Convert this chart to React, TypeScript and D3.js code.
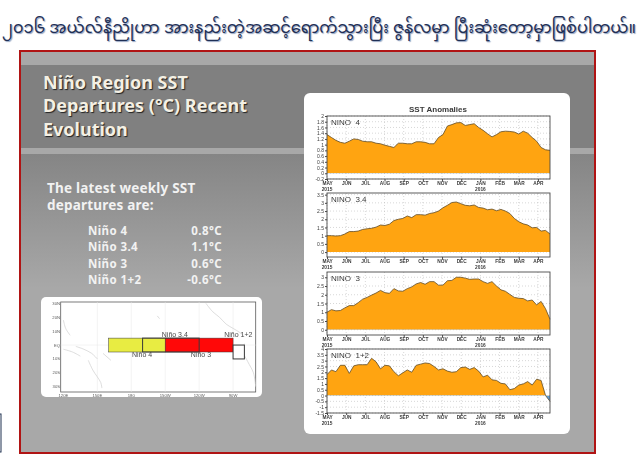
import * as d3 from "d3";
import React, { useEffect, useRef } from "react";

const headline = "၂၀၁၆ အယ်လ်နီညိုဟာ အားနည်းတဲ့အဆင့်ရောက်သွားပြီး ဇွန်လမှာ ပြီးဆုံးတော့မှာဖြစ်ပါတယ်။";
const titleLines = ["Niño Region SST", "Departures (°C) Recent", "Evolution"];
const introLines = ["The latest weekly SST", "departures are:"];
const regionNames = ["Niño 4", "Niño 3.4", "Niño 3", "Niño 1+2"];
const latestValues = ["0.8°C", "1.1°C", "0.6°C", "-0.6°C"];

const months = ["MAY", "JUN", "JUL", "AUG", "SEP", "OCT", "NOV", "DEC", "JAN", "FEB", "MAR", "APR"];

// weekly anomalies, May 2015 - Apr 2016
const nino4 = [
  1.35, 1.25, 1.15, 1.08, 1.05, 1.12, 1.2, 1.18, 1.12, 1.1, 1.1, 1.05, 1.03, 0.98, 0.94, 0.9, 1.05,
  1.05, 1.03, 1.03, 1.1, 1.1, 1.08, 1.03, 1.03, 1.25, 1.35, 1.65, 1.7, 1.76, 1.77, 1.67, 1.7, 1.73,
  1.6, 1.5, 1.38, 1.27, 1.35, 1.45, 1.47, 1.46, 1.44, 1.37, 1.47, 1.4, 1.25, 1.12, 0.9, 0.82, 0.8,
];
const nino34 = [
  1.0, 1.0, 0.98, 1.0, 1.1, 1.25, 1.25, 1.28, 1.38, 1.42, 1.45, 1.52, 1.65, 1.62, 1.7, 1.92, 2.0,
  2.05, 2.2, 2.1, 2.28, 2.28, 2.25, 2.35, 2.4, 2.5, 2.7, 2.85, 3.02, 3.05, 2.95, 2.85, 2.82, 2.87,
  2.72, 2.68, 2.58, 2.62, 2.52, 2.6, 2.5, 2.35, 2.05, 1.85, 1.72, 1.65, 1.48, 1.5, 1.28, 1.32, 1.1,
];
const nino3 = [
  1.0, 1.15, 1.08, 1.1, 1.25, 1.38, 1.38, 1.55, 1.75, 1.85, 1.98, 2.1, 2.25, 2.12, 2.08, 2.35, 2.22,
  2.2, 2.35, 2.45, 2.62, 2.7, 2.6, 2.75, 2.75, 2.55, 2.55, 2.8, 2.82, 3.0, 3.0, 2.95, 2.88, 2.9,
  2.9, 2.75, 2.65, 2.75, 2.5, 2.28, 2.2, 2.02, 1.85, 1.8, 1.78, 1.65, 1.7, 1.42, 1.62, 1.2, 0.6,
];
const nino12 = [
  1.8, 2.2, 2.05, 2.6, 2.6, 1.9, 2.55, 2.65, 2.65, 2.65, 3.2, 2.9, 2.3, 2.6, 2.55, 2.05, 1.7, 1.95,
  2.2, 2.0, 2.6, 2.7, 2.8, 2.75, 2.5, 2.2, 2.3, 2.1, 2.0, 2.05, 2.4, 2.45, 2.25, 2.4, 2.1, 1.6, 1.75,
  1.35, 1.3, 1.05, 1.0, 0.5, 0.6, 0.9, 1.0, 1.2, 0.9, 1.4, 1.3, 0.0, -0.5,
];

const ticks4 = [-0.2, 0, 0.2, 0.4, 0.6, 0.8, 1, 1.2, 1.4, 1.6, 1.8, 2];
const ticks34 = [0, 0.5, 1, 1.5, 2, 2.5, 3, 3.5];
const ticks3 = [0, 0.5, 1, 1.5, 2, 2.5, 3];
const ticks12 = [-1.5, -1, -0.5, 0, 0.5, 1, 1.5, 2, 2.5, 3, 3.5, 4];

const panels = [
  { label: "NINO  4", values: nino4, ticks: ticks4, domain: [-0.2, 2], top: 116, bottom: 179 },
  { label: "NINO  3.4", values: nino34, ticks: ticks34, domain: [-0.3, 3.6], top: 193, bottom: 257 },
  { label: "NINO  3", values: nino3, ticks: ticks3, domain: [-0.3, 3.3], top: 272, bottom: 335 },
  { label: "NINO  1+2", values: nino12, ticks: ticks12, domain: [-1.5, 4], top: 349, bottom: 413 },
];

// map inset
const mapLons = [120, 150, 180, 210, 240, 270];
const mapLonLabels = ["120E", "150E", "180", "150W", "120W", "90W"];
const mapLats = [30, 20, 10, 0, -10, -20, -30];
const mapLatLabels = ["30N", "20N", "10N", "EQ", "10S", "20S", "30S"];
const mapBoxes = [
  { name: "Niño 4", lon0: 160, lon1: 210, lat0: -5, lat1: 5, fill: "#e8ec3c" },
  { name: "Niño 3", lon0: 210, lon1: 270, lat0: -5, lat1: 5, fill: "#ff0000" },
  { name: "Niño 3.4", lon0: 190, lon1: 240, lat0: -5, lat1: 5, fill: "none" },
  { name: "Niño 1+2", lon0: 270, lon1: 280, lat0: -10, lat1: 0, fill: "#ffffff" },
];
const mapLabels = [
  { text: "Niño 3.4", lon: 218.5, lat: 5.8 },
  { text: "Niño 4", lon: 189.5, lat: -8.5 },
  { text: "Niño 3", lon: 241.6, lat: -8.5 },
  { text: "Niño 1+2", lon: 274.6, lat: 5.8 },
];
// rough coast outlines, lon / lat
const coasts = [
  [[246, 30], [252, 24], [258, 20], [264, 15], [270, 12], [276, 9], [280, 6]],
  [[280, 1], [279, -5], [283, -12], [288, -20], [290, -30]],
  [[131, -1], [138, -3], [145, -6], [150, -10]],
  [[142, -11], [146, -18], [153, -27], [154, -31]],
  [[120, 18], [122, 12], [126, 7]],
  [[120, -3], [128, -5], [135, -8]],
  [[155, -6], [162, -11]],
  [[203, 21], [205, 19]],
];

const App: React.FC = () => {
  const ref = useRef<SVGSVGElement>(null);

  useEffect(() => {
    if (!ref.current) return;
    const svg = d3.select(ref.current);
    svg.selectAll(".charts").remove();
    const root = svg.append("g").attr("class", "charts").attr("opacity", 0.97);

    const left = 327;
    const right = 550;
    // month index across the axis, May = 0
    const xScale = d3.scaleLinear().domain([0, 11.63]).range([left, right]);
    const weekX = (i: number) => xScale((i * 11.63) / 50);

    root
      .append("text")
      .attr("x", 438)
      .attr("y", 111.5)
      .attr("text-anchor", "middle")
      .attr("font-family", "Liberation Sans")
      .attr("font-size", 8)
      .attr("font-weight", "bold")
      .attr("fill", "#333")
      .text("SST Anomalies");

    panels.forEach((p, n) => {
      const yScale = d3.scaleLinear().domain(p.domain).range([p.bottom, p.top]);
      const g = root.append("g");
      const clipId = `plot-${n}`;
      const zero = yScale(0);

      const defs = g.append("defs");
      defs
        .append("clipPath")
        .attr("id", `${clipId}-pos`)
        .append("rect")
        .attr("x", left)
        .attr("y", p.top)
        .attr("width", right - left)
        .attr("height", zero - p.top);
      defs
        .append("clipPath")
        .attr("id", `${clipId}-neg`)
        .append("rect")
        .attr("x", left)
        .attr("y", zero)
        .attr("width", right - left)
        .attr("height", p.bottom - zero);

      // dotted grid
      g.selectAll(".gy")
        .data(p.ticks)
        .enter()
        .append("line")
        .attr("x1", left)
        .attr("x2", right)
        .attr("y1", (d) => yScale(d))
        .attr("y2", (d) => yScale(d))
        .attr("stroke", "#bbb")
        .attr("stroke-width", 0.6)
        .attr("stroke-dasharray", "1,2");
      g.selectAll(".gx")
        .data(months.map((_, i) => i))
        .enter()
        .append("line")
        .attr("x1", (d) => xScale(d))
        .attr("x2", (d) => xScale(d))
        .attr("y1", p.top)
        .attr("y2", p.bottom)
        .attr("stroke", "#bbb")
        .attr("stroke-width", 0.6)
        .attr("stroke-dasharray", "1,2");

      const area = d3
        .area<number>()
        .x((_, i) => weekX(i))
        .y0(zero)
        .y1((d) => yScale(d));
      g.append("path")
        .datum(p.values)
        .attr("d", area)
        .attr("fill", "#ffa20a")
        .attr("clip-path", `url(#${clipId}-pos)`);
      g.append("path")
        .datum(p.values)
        .attr("d", area)
        .attr("fill", "#5b9bd5")
        .attr("clip-path", `url(#${clipId}-neg)`);

      const line = d3
        .line<number>()
        .x((_, i) => weekX(i))
        .y((d) => yScale(d));
      g.append("path")
        .datum(p.values)
        .attr("d", line)
        .attr("fill", "none")
        .attr("stroke", "#5a4520")
        .attr("stroke-width", 0.8);

      g.append("rect")
        .attr("x", left)
        .attr("y", p.top)
        .attr("width", right - left)
        .attr("height", p.bottom - p.top)
        .attr("fill", "none")
        .attr("stroke", "#444")
        .attr("stroke-width", 0.9);

      // y axis
      const yAxis = g
        .append("g")
        .attr("transform", `translate(${left},0)`)
        .call(d3.axisLeft(yScale).tickValues(p.ticks).tickSize(2).tickPadding(1).tickFormat((d) => String(d)));
      yAxis.select(".domain").remove();
      yAxis.selectAll("line").attr("stroke", "#444");
      yAxis.selectAll("text").attr("font-size", 5).attr("font-family", "Liberation Sans").attr("fill", "#333");

      // x axis, years go under May and Jan
      const xAxis = g
        .append("g")
        .attr("transform", `translate(0,${p.bottom})`)
        .call(
          d3
            .axisBottom(xScale)
            .tickValues(months.map((_, i) => i))
            .tickSize(2)
            .tickPadding(1)
            .tickFormat((d) => months[d as number])
        );
      xAxis.select(".domain").remove();
      xAxis.selectAll("line").attr("stroke", "#444");
      xAxis
        .selectAll("text")
        .attr("font-size", 4.8)
        .attr("font-family", "Liberation Sans")
        .attr("font-weight", "bold")
        .attr("fill", "#333");
      [
        { m: 0, year: "2015" },
        { m: 8, year: "2016" },
      ].forEach((d) => {
        g.append("text")
          .attr("x", xScale(d.m))
          .attr("y", p.bottom + 11.5)
          .attr("text-anchor", "middle")
          .attr("font-size", 4.8)
          .attr("font-family", "Liberation Sans")
          .attr("font-weight", "bold")
          .attr("fill", "#333")
          .text(d.year);
      });

      g.append("text")
        .attr("x", left + 4)
        .attr("y", p.top + 9)
        .attr("font-size", 8)
        .attr("font-family", "Liberation Sans")
        .attr("fill", "#333")
        .style("white-space", "pre")
        .text(p.label);
    });

    // map inset
    const mapX = d3.scaleLinear().domain([117.6, 290]).range([60.7, 255.7]);
    const mapY = d3.scaleLinear().domain([-33.8, 31]).range([392, 302]);
    const map = root.append("g");
    map
      .append("rect")
      .attr("x", 60.7)
      .attr("y", 302)
      .attr("width", 195)
      .attr("height", 90)
      .attr("fill", "#fff")
      .attr("stroke", "#555")
      .attr("stroke-width", 0.8);
    map
      .selectAll(".mg")
      .data(mapLons.slice(1))
      .enter()
      .append("line")
      .attr("x1", (d) => mapX(d))
      .attr("x2", (d) => mapX(d))
      .attr("y1", 302)
      .attr("y2", 392)
      .attr("stroke", "#e6e6e6")
      .attr("stroke-width", 0.5);
    map
      .append("line")
      .attr("x1", 60.7)
      .attr("x2", 255.7)
      .attr("y1", mapY(0))
      .attr("y2", mapY(0))
      .attr("stroke", "#e6e6e6")
      .attr("stroke-width", 0.5);
    const coastLine = d3
      .line<number[]>()
      .x((d) => mapX(d[0]))
      .y((d) => mapY(d[1]))
      .curve(d3.curveCatmullRom);
    map
      .selectAll(".coast")
      .data(coasts)
      .enter()
      .append("path")
      .attr("d", (d) => coastLine(d))
      .attr("fill", "none")
      .attr("stroke", "#cfcfcf")
      .attr("stroke-width", 0.7);
    map
      .selectAll(".mb")
      .data(mapBoxes)
      .enter()
      .append("rect")
      .attr("x", (d) => mapX(d.lon0))
      .attr("y", (d) => mapY(d.lat1))
      .attr("width", (d) => mapX(d.lon1) - mapX(d.lon0))
      .attr("height", (d) => mapY(d.lat0) - mapY(d.lat1))
      .attr("fill", (d) => d.fill)
      .attr("stroke", "#333")
      .attr("stroke-width", (d) => (d.fill === "none" || d.fill === "#ffffff" ? 1 : 0.5));
    map
      .selectAll(".ml")
      .data(mapLabels)
      .enter()
      .append("text")
      .attr("x", (d) => mapX(d.lon))
      .attr("y", (d) => mapY(d.lat))
      .attr("text-anchor", "middle")
      .attr("font-size", 7)
      .attr("font-family", "Liberation Sans")
      .attr("fill", "#444")
      .text((d) => d.text);
    map
      .selectAll(".mlon")
      .data(mapLons)
      .enter()
      .append("text")
      .attr("x", (d) => mapX(d))
      .attr("y", 396.5)
      .attr("text-anchor", "middle")
      .attr("font-size", 4.2)
      .attr("font-family", "Liberation Sans")
      .attr("fill", "#555")
      .text((_, i) => mapLonLabels[i]);
    map
      .selectAll(".mlat")
      .data(mapLats)
      .enter()
      .append("text")
      .attr("x", 60)
      .attr("y", (d) => mapY(d) + 1.5)
      .attr("text-anchor", "end")
      .attr("font-size", 4.2)
      .attr("font-family", "Liberation Sans")
      .attr("fill", "#555")
      .text((_, i) => mapLatLabels[i]);
  }, []);

  return (
    <svg
      ref={ref}
      width={640}
      height={469}
      style={{ position: "absolute", left: 0, top: 0, background: "#fff" }}
    >
      <defs>
        <linearGradient id="lower" x1="0" y1="0" x2="0" y2="1">
          <stop offset="0" stopColor="#858585" />
          <stop offset="0.45" stopColor="#a8a8a8" />
          <stop offset="1" stopColor="#a8a8a8" />
        </linearGradient>
      </defs>

      <text
        x={2}
        y={33}
        fontFamily="'Noto Sans Myanmar', 'Padauk', 'Noto Sans', sans-serif"
        fontSize={16}
        fill="#1f2f55"
        textLength={634}
        lengthAdjust="spacingAndGlyphs"
        style={{ textShadow: "1px 1px 1px #8f9fbd" }}
      >
        {headline}
      </text>

      {/* slide */}
      <rect x={20} y={51} width={575} height={402} fill="#a8a8a8" stroke="#b01414" strokeWidth={2} />
      <rect x={21} y={65} width={573} height={83} fill="#808080" />
      <rect x={21} y={154} width={573} height={298} fill="url(#lower)" />

      <g fontFamily="'Noto Sans', sans-serif" fontWeight="bold" fontSize={18} fill="#f4f0e4">
        {titleLines.map((t, i) => (
          <text key={t} x={43} y={89 + i * 23.3} style={{ textShadow: "1px 1px 1px #222" }}>
            {t}
          </text>
        ))}
      </g>

      <g fontFamily="'Noto Sans', sans-serif" fontWeight="bold" fontSize={13.5} letterSpacing={0.2} fill="#f2f2f2">
        {introLines.map((t, i) => (
          <text key={t} x={47} y={193 + i * 17}>
            {t}
          </text>
        ))}
      </g>
      <g fontFamily="'Noto Sans', sans-serif" fontWeight="bold" fontSize={11.5} letterSpacing={0.4} fill="#f2f2f2">
        {regionNames.map((t, i) => (
          <text key={t} x={88} y={235 + i * 16.3}>
            {t}
          </text>
        ))}
        {latestValues.map((t, i) => (
          <text key={t} x={222} y={235 + i * 16.3} textAnchor="end">
            {t}
          </text>
        ))}
      </g>

      {/* white cards */}
      <rect x={41} y={297} width={221} height={100} rx={5} fill="#fff" />
      <rect x={304} y={93} width={266} height={341} rx={6} fill="#fff" />

      {/* piece of a box at the lower left edge */}
      <rect x={-2} y={414} width={3} height={38} fill="none" stroke="#1f3050" strokeWidth={1} />
    </svg>
  );
};

export default App;
